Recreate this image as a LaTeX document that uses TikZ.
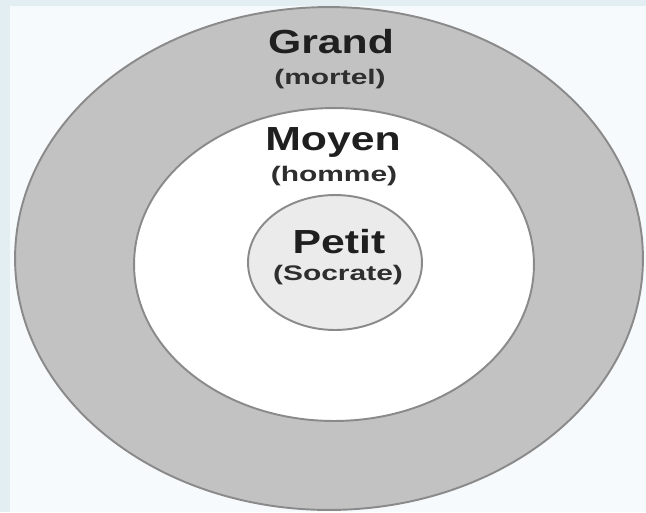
\documentclass[tikz,border=0pt]{standalone}
\usepackage{fontspec}
\usepackage{tikz}
\usetikzlibrary{shapes.geometric}
\newfontfamily\wideBig[FakeStretch=1.28]{Liberation Sans}
\newfontfamily\wideSmall[FakeStretch=1.42]{Liberation Sans}
\definecolor{ringgray}{HTML}{C2C2C2}
\definecolor{edgegray}{HTML}{8A8A8A}
\definecolor{pale}{HTML}{EBEBEB}
\definecolor{bgblue}{HTML}{F7FAFC}
\definecolor{stripblue}{HTML}{E2EEF2}

\begin{document}
\begin{tikzpicture}[x=0.02cm, y=-0.02cm,
  ringzone/.style={draw=edgegray, line width=1.1pt, ellipse, inner sep=0pt},
  bigtxt/.style={font=\wideBig\bfseries\fontsize{19}{22}\selectfont, text=black!88, inner sep=0pt, anchor=base},
  subtxt/.style={font=\wideSmall\bfseries\fontsize{12}{14}\selectfont, text=black!82, inner sep=0pt}
]
% background
\fill[bgblue] (0,0) rectangle (646,512);
\fill[stripblue] (0,0) rectangle (10,512);
\fill[stripblue] (0,0) rectangle (646,6);
\useasboundingbox (0,0) rectangle (646,512);

% the three terms
\node[ringzone, fill=ringgray, minimum width=12.56cm, minimum height=10.06cm] (grand) at (329,258.5) {};
\node[ringzone, fill=white, minimum width=8cm, minimum height=6.26cm] (moyen) at (334,264.5) {};
\node[ringzone, fill=pale, minimum width=3.48cm, minimum height=2.7cm] (petit) at (335,262.5) {};

% labels
\node[bigtxt] (tgrand) at (331,53) {Grand};
\node[subtxt] (tmortel) at (330,79) {(mortel)};
\node[bigtxt] (tmoyen) at (333,150) {Moyen};
\node[subtxt] (thomme) at (334,176) {(homme)};
\node[bigtxt] (tpetit) at (339,253) {Petit};
\node[subtxt] (tsocrate) at (338,275) {(Socrate)};
\end{tikzpicture}
\end{document}
